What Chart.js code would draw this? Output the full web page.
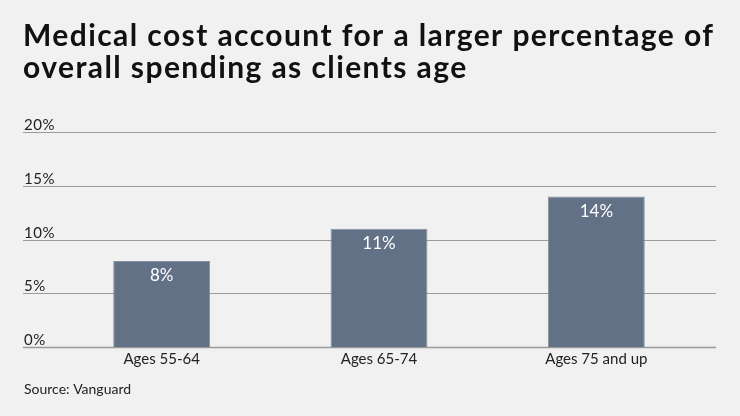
<!DOCTYPE html>
<html>
<head>
<meta charset="utf-8">
<script src="https://cdn.jsdelivr.net/npm/chart.js@4.4.4/dist/chart.umd.min.js"></script>
<style>
  html, body { margin: 0; padding: 0; background: #f0f1f0; }
  #wrap { width: 740px; height: 416px; position: relative; }
</style>
</head>
<body>
<div id="wrap"><canvas id="chart"></canvas></div>
<script>
const categories = ["Ages 55-64", "Ages 65-74", "Ages 75 and up"];
const shares = [8, 11, 14];
const yTicks = [0, 5, 10, 15, 20];
const titleLines = ["Medical cost account for a larger percentage of", "overall spending as clients age"];
const sourceText = "Source: Vanguard";

const FONT = "Lato, 'Noto Sans', sans-serif";

// text with extra letter spacing so the title spans the same width as the original
function spacedText(ctx, text, x, y, spacing) {
    if ("letterSpacing" in ctx) {
        ctx.letterSpacing = spacing + "px";
        ctx.fillText(text, x, y);
        ctx.letterSpacing = "0px";
        return;
    }
    let cx = x;
    for (const ch of text) {
        ctx.fillText(ch, cx, y);
        cx += ctx.measureText(ch).width + spacing;
    }
}

const decorPlugin = {
    id: "decor",
    beforeDatasetsDraw(chart) {
        const ctx = chart.ctx;
        const y = chart.scales.y;
        ctx.save();
        yTicks.forEach((v) => {
            const py = Math.round(y.getPixelForValue(v)) + 0.5;
            ctx.strokeStyle = "#9a9a9a";
            ctx.lineWidth = v === 0 ? 1.5 : 1;
            ctx.beginPath();
            ctx.moveTo(23, py);
            ctx.lineTo(716, py);
            ctx.stroke();
            ctx.fillStyle = "#222";
            ctx.font = "15px " + FONT;
            ctx.textAlign = "left";
            ctx.textBaseline = "alphabetic";
            spacedText(ctx, v + "%", 24, py - 3, 0.6);
        });
        ctx.restore();
    },
    afterDatasetsDraw(chart) {
        const ctx = chart.ctx;
        ctx.save();
        ctx.fillStyle = "#ffffff";
        ctx.font = "17px " + FONT;
        ctx.textAlign = "center";
        ctx.textBaseline = "middle";
        chart.getDatasetMeta(0).data.forEach((bar, i) => {
            ctx.fillText(shares[i] + "%", bar.x, bar.y + 15);
        });
        ctx.restore();
    },
    afterDraw(chart) {
        const ctx = chart.ctx;
        ctx.save();
        ctx.fillStyle = "#111";
        ctx.font = "bold 30px " + FONT;
        ctx.textAlign = "left";
        ctx.textBaseline = "alphabetic";
        const w = ctx.measureText(titleLines[0]).width;
        const spacing = (690 - w) / (titleLines[0].length - 1);
        spacedText(ctx, titleLines[0], 23, 46, spacing);
        spacedText(ctx, titleLines[1], 23, 78, spacing);
        ctx.fillStyle = "#222";
        ctx.font = "14px " + FONT;
        ctx.fillText(sourceText, 24, 394);
        ctx.restore();
    },
};

new Chart(document.getElementById("chart"), {
    type: "bar",
    data: {
        labels: categories,
        datasets: [
            {
                data: shares,
                backgroundColor: "#637186",
                borderColor: "#8592a3",
                borderWidth: 1,
                categoryPercentage: 1,
                barPercentage: 0.446,
            },
        ],
    },
    options: {
        responsive: true,
        maintainAspectRatio: false,
        animation: false,
        layout: {padding: {top: 132, bottom: 44, left: 22, right: 35}},
        plugins: {legend: {display: false}, tooltip: {enabled: false}},
        scales: {
            x: {
                grid: {display: false, drawTicks: false},
                border: {display: false},
                ticks: {color: "#222", font: {family: FONT, size: 15}, padding: 3},
                afterFit: (s) => { s.height = 25; },
            },
            y: {
                min: 0,
                max: 20,
                grid: {display: false, drawTicks: false},
                border: {display: false},
                ticks: {display: false},
                afterFit: (s) => { s.width = 31; },
            },
        },
    },
    plugins: [decorPlugin],
});
</script>
</body>
</html>
